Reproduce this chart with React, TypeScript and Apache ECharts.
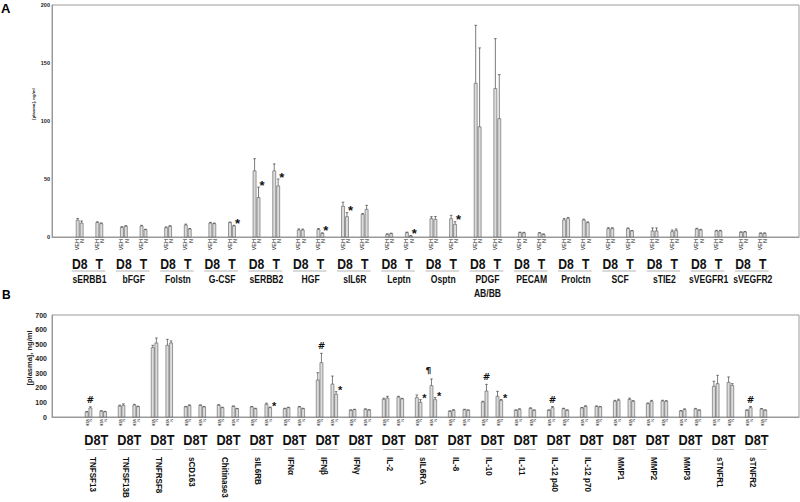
import React, { useEffect, useRef } from 'react';
import * as echarts from 'echarts';

// ---------- Panel A data (ng/ml) ----------
const groupsA = ['sERBB1', 'bFGF', 'Folstn', 'G-CSF', 'sERBB2', 'HGF', 'sIL6R', 'Leptn', 'Osptn', 'PDGF\nAB/BB', 'PECAM', 'Prolctn', 'SCF', 'sTIE2', 'sVEGFR1', 'sVEGFR2'];
const d8VehA = [14.5, 8.3, 8, 12, 57, 6, 26.5, 2.3, 15.8, 132.5, 3.7, 14.7, 7.2, 5.2, 6.9, 4];
const d8VehErrA = [1.5, 0.6, 0.7, 0.6, 10.5, 1, 3.5, 0.4, 1.7, 50, 0.5, 1.2, 0.8, 2.6, 0.6, 0.5];
const d8NA = [12, 9.2, 9.2, 11.5, 34, 6, 17.5, 2.9, 15.2, 95, 3.5, 15.8, 7.2, 5.2, 6, 4.3];
const d8NErrA = [1.8, 0.6, 0.6, 0.5, 9, 0.8, 3.5, 0.4, 2.5, 68, 0.5, 1, 0.8, 2.6, 0.6, 0.4];
const tVehA = [12.5, 9.5, 10.3, 12.4, 57, 6.5, 19.5, 3.7, 15.8, 128, 3.4, 14.7, 7.2, 4.6, 5.2, 3.2];
const tVehErrA = [0.6, 0.6, 0.8, 0.5, 6, 0.8, 0.8, 0.5, 2.9, 43, 0.4, 0.7, 0.6, 1.4, 0.5, 0.3];
const tNA = [11.5, 6.3, 6.9, 9.5, 44, 3, 23.8, 0.9, 10.9, 102, 2.3, 12.4, 5.2, 5.5, 5.2, 3.2];
const tNErrA = [0.6, 0.4, 0.4, 0.6, 6, 0.6, 3.5, 0.3, 2.3, 38, 0.3, 0.6, 0.4, 1.4, 0.5, 0.3];
const d8VehSymA = ['', '', '', '', '', '', '', '', '', '', '', '', '', '', '', ''];
const d8NSymA = ['', '', '', '', '*', '', '*', '', '', '', '', '', '', '', '', ''];
const tVehSymA = ['', '', '', '', '', '', '', '', '', '', '', '', '', '', '', ''];
const tNSymA = ['', '', '', '*', '*', '*', '', '*', '*', '', '', '', '', '', '', ''];
const ticksA = { min: 0, max: 200, step: 50 };

// ---------- Panel B data (ng/ml) ----------
const groupsB = ['TNFSF13', 'TNFSF13B', 'TNFRSF8', 'sCD163', 'Chitinase3', 'sIL6RB', 'IFNα', 'IFNβ', 'IFNγ', 'IL-2', 'sIL6RA', 'IL-8', 'IL-10', 'IL-11', 'IL-12 p40', 'IL-12 p70', 'MMP1', 'MMP2', 'MMP3', 'sTNFR1', 'sTNFR2'];
const d8VehB = [34, 75, 476, 69, 80, 69, 57, 254, 46, 121, 133, 39, 103, 46, 46, 62, 108, 92, 41, 211, 46];
const d8VehErrB = [4, 6, 16, 3, 5, 3, 3, 50, 3, 8, 18, 3, 5, 3, 3, 3, 6, 4, 3, 34, 3];
const d8NB = [62, 80, 508, 78, 64, 57, 64, 373, 50, 130, 101, 46, 178, 53, 64, 73, 114, 108, 50, 229, 64];
const d8NErrB = [8, 10, 34, 5, 3, 3, 3, 64, 3, 12, 18, 4, 46, 3, 8, 4, 8, 6, 6, 57, 8];
const tVehB = [40, 82, 492, 80, 73, 87, 69, 226, 53, 137, 215, 50, 142, 59, 57, 73, 121, 110, 55, 238, 55];
const tVehErrB = [3, 5, 41, 3, 3, 8, 3, 55, 3, 5, 46, 3, 34, 4, 3, 3, 8, 5, 4, 37, 3];
const tNB = [36, 71, 508, 69, 57, 64, 57, 156, 48, 124, 119, 46, 114, 46, 46, 69, 108, 108, 46, 217, 46];
const tNErrB = [3, 3, 14, 3, 2, 4, 3, 18, 2, 4, 14, 3, 6, 3, 3, 3, 4, 4, 3, 12, 3];
const d8VehSymB = ['', '', '', '', '', '', '', '', '', '', '', '', '', '', '', '', '', '', '', '', ''];
const d8NSymB = ['#', '', '', '', '', '', '', '#', '', '', '*', '', '#', '', '#', '', '', '', '', '', '#'];
const tVehSymB = ['', '', '', '', '', '', '', '', '', '', '¶', '', '', '', '', '', '', '', '', '', ''];
const tNSymB = ['', '', '', '', '', '*', '', '*', '', '', '*', '', '*', '', '', '', '', '', '', '', ''];
const ticksB = { min: 0, max: 700, step: 100 };

const subLabels = ['VEH', 'N', 'VEH', 'N'];
const yName = '[plasma], ng/ml';

// layout (slot units per group)
const PERIOD = 9;
const OFFS_A = [0, 0.8, 4, 4.8];
const OFFS_B = [0, 1, 4, 5];
const FF = 'Liberation Sans, Arial, sans-serif';
const INK = '#111111';

type Bar = { x: number; v: number; e: number; sym: string };

function buildBars(series: number[][], errs: number[][], syms: string[][], offs: number[]): Bar[] {
  const out: Bar[] = [];
  for (let g = 0; g < series[0].length; g++) {
    for (let k = 0; k < 4; k++) {
      out.push({ x: g * PERIOD + offs[k], v: series[k][g], e: errs[k][g], sym: syms[k][g] || '' });
    }
  }
  return out;
}

const barsA = buildBars([d8VehA, d8NA, tVehA, tNA], [d8VehErrA, d8NErrA, tVehErrA, tNErrA], [d8VehSymA, d8NSymA, tVehSymA, tNSymA], OFFS_A);
const barsB = buildBars([d8VehB, d8NB, tVehB, tNB], [d8VehErrB, d8NErrB, tVehErrB, tNErrB], [d8VehSymB, d8NSymB, tVehSymB, tNSymB], OFFS_B);

function txt(x: number, y: number, text: string, font: string, align: string, vAlign: string, extra: any = {}) {
  return {
    type: 'text', x, y, ...extra,
    style: { text, font, fill: INK, textFill: INK, textAlign: align, textVerticalAlign: vAlign, ...(extra.styleExtra || {}) },
  };
}

function barRenderer(bars: Bar[], panel: 'A' | 'B') {
  return (params: any, api: any) => {
    const b = bars[params.dataIndex];
    const top = api.coord([b.x, b.v]);
    const base = api.coord([b.x, 0]);
    const et = api.coord([b.x, b.v + b.e]);
    const w = 3;
    const cx = top[0];
    const children: any[] = [
      {
        type: 'rect',
        shape: { x: cx - w / 2, y: top[1], width: w, height: Math.max(0.5, base[1] - top[1]) },
        style: { fill: '#dcdcdc', stroke: '#5a5a5a', lineWidth: 0.6 },
      },
    ];
    if (b.e > 0) {
      children.push({ type: 'line', shape: { x1: cx, y1: top[1], x2: cx, y2: et[1] }, style: { stroke: '#444', lineWidth: 0.7 } });
      children.push({ type: 'line', shape: { x1: cx - 1.3, y1: et[1], x2: cx + 1.3, y2: et[1] }, style: { stroke: '#444', lineWidth: 0.7 } });
    }
    if (b.sym) {
      let sx = cx;
      let sy = et[1];
      let font = 'bold 9px ' + FF;
      if (b.sym === '*') {
        if (panel === 'A') {
          sx = cx + 3.5; sy = et[1] - 5 + 3; font = 'bold 13px ' + FF;
        } else {
          sx = cx + 4; sy = et[1] - 4 + 2.5; font = 'bold 11px ' + FF;
        }
      } else if (b.sym === '#') {
        sx = cx; sy = et[1] - 7; font = 'bold 9px DejaVu Sans, ' + FF;
      } else {
        sx = cx - 3; sy = et[1] - 8; font = 'bold 9px DejaVu Sans, ' + FF;
      }
      children.push(txt(sx, sy, b.sym, font, 'center', 'middle'));
    }
    return { type: 'group', children };
  };
}

function labelRendererA(params: any, api: any) {
  const g = params.dataIndex;
  const x0 = api.value(0);
  const pts = OFFS_A.map((o) => api.coord([x0 + o, 0]));
  const y0 = pts[0][1];
  const children: any[] = [];
  pts.forEach((p: number[], k: number) => {
    children.push(txt(p[0] + (k % 2 === 1 ? 0.8 : -0.5), y0 + 2, subLabels[k], '5.5px ' + FF, 'right', 'middle', { rotation: Math.PI / 2 }));
  });
  const d8x = (pts[0][0] + pts[1][0]) / 2;
  const tx = (pts[2][0] + pts[3][0]) / 2;
  const cx = (pts[0][0] + pts[3][0]) / 2;
  children.push(txt(d8x, y0 + 27, 'D8', 'bold 14px ' + FF, 'center', 'middle', { scaleX: 0.87 }));
  children.push(txt(tx, y0 + 27, 'T', 'bold 14px ' + FF, 'center', 'middle', { scaleX: 0.87 }));
  children.push({ type: 'line', shape: { x1: pts[0][0] - 6, y1: y0 + 34, x2: pts[3][0] + 4, y2: y0 + 34 }, style: { stroke: '#b5b5b5', lineWidth: 1 } });
  children.push(txt(cx, y0 + 35.5, groupsA[g], 'bold 10px ' + FF, 'center', 'top', { scaleX: 0.86, styleExtra: { lineHeight: 14 } }));
  return { type: 'group', children };
}

function labelRendererB(params: any, api: any) {
  const g = params.dataIndex;
  const x0 = api.value(0);
  const pts = OFFS_B.map((o) => api.coord([x0 + o, 0]));
  const y0 = pts[0][1];
  const children: any[] = [];
  pts.forEach((p: number[], k: number) => {
    children.push(txt(p[0], y0 + 2, subLabels[k], '3.6px ' + FF, 'left', 'middle', { rotation: -Math.PI / 2 }));
  });
  const cx = (pts[0][0] + pts[3][0]) / 2;
  children.push(txt(cx + 0.5, y0 + 23, 'D8T', 'bold 15px ' + FF, 'center', 'middle', { scaleX: 0.85 }));
  children.push({ type: 'line', shape: { x1: pts[0][0] - 0.5, y1: y0 + 32.5, x2: pts[3][0] + 1.5, y2: y0 + 32.5 }, style: { stroke: '#b5b5b5', lineWidth: 1 } });
  children.push(txt(cx - 3, y0 + 40, groupsB[g], 'bold 9.3px ' + FF, 'left', 'middle', { rotation: -Math.PI / 2, scaleX: 0.87 }));
  return { type: 'group', children };
}

export default function App() {
  const ref = useRef<HTMLDivElement>(null);
  useEffect(() => {
    if (!ref.current) return;
    const chart = echarts.init(ref.current, undefined, { renderer: 'svg' });
    const axisLine = { show: true, onZero: false, lineStyle: { color: '#9a9a9a', width: 1 } };
    const option: any = {
      animation: false,
      backgroundColor: '#fff',
      textStyle: { color: INK },
      grid: [
        { left: 52, top: 5, width: 747, height: 232, show: true, borderColor: '#9a9a9a', borderWidth: 1, backgroundColor: 'transparent' },
        { left: 52, top: 315, width: 747, height: 102, show: true, borderColor: '#9a9a9a', borderWidth: 1, backgroundColor: 'transparent' },
      ],
      xAxis: [
        { gridIndex: 0, type: 'value', min: -5.23, max: 146.8, axisLine, axisTick: { show: false }, axisLabel: { show: false }, splitLine: { show: false } },
        { gridIndex: 1, type: 'value', min: -9.46, max: 194.2, axisLine, axisTick: { show: false }, axisLabel: { show: false }, splitLine: { show: false } },
      ],
      yAxis: [
        {
          gridIndex: 0, type: 'value', min: ticksA.min, max: ticksA.max, interval: ticksA.step, axisLine, axisTick: { show: false }, splitLine: { show: false },
          axisLabel: { fontSize: 5.5, fontWeight: 'bold', color: '#222222', margin: 2, fontFamily: 'Liberation Sans' },
        },
        {
          gridIndex: 1, type: 'value', min: ticksB.min, max: ticksB.max, interval: ticksB.step, axisLine, axisTick: { show: false }, splitLine: { show: false },
          axisLabel: { fontSize: 7, fontWeight: 'bold', color: '#222222', margin: 5, fontFamily: 'Liberation Sans' },
        },
      ],
      series: [
        { type: 'custom', xAxisIndex: 0, yAxisIndex: 0, renderItem: barRenderer(barsA, 'A'), data: barsA.map((b) => [b.x, b.v]), clip: false, itemStyle: { color: INK } },
        { type: 'custom', xAxisIndex: 1, yAxisIndex: 1, renderItem: barRenderer(barsB, 'B'), data: barsB.map((b) => [b.x, b.v]), clip: false, itemStyle: { color: INK } },
        { type: 'custom', xAxisIndex: 0, yAxisIndex: 0, renderItem: labelRendererA, data: groupsA.map((_, i) => [i * PERIOD, 0]), clip: false, silent: true, itemStyle: { color: INK } },
        { type: 'custom', xAxisIndex: 1, yAxisIndex: 1, renderItem: labelRendererB, data: groupsB.map((_, i) => [i * PERIOD, 0]), clip: false, silent: true, itemStyle: { color: INK } },
      ],
      graphic: [
        { type: 'text', left: 1, top: 2, style: { text: 'A', font: 'bold 13px ' + FF, fill: '#000' } },
        { type: 'text', left: 2, top: 289, style: { text: 'B', font: 'bold 12px ' + FF, fill: '#000' } },
        { type: 'text', x: 33.5, y: 104, rotation: Math.PI / 2, style: { text: yName, font: 'bold 4.3px ' + FF, fill: '#222', textAlign: 'center', textVerticalAlign: 'middle' } },
        { type: 'text', x: 29, y: 358, rotation: Math.PI / 2, style: { text: yName, font: 'bold 7.5px ' + FF, fill: '#222', textAlign: 'center', textVerticalAlign: 'middle' } },
      ],
    };
    chart.setOption(option);
    return () => chart.dispose();
  }, []);
  return <div ref={ref} style={{ position: 'fixed', left: 0, top: 0, width: 800, height: 502, background: '#fff' }} />;
}
